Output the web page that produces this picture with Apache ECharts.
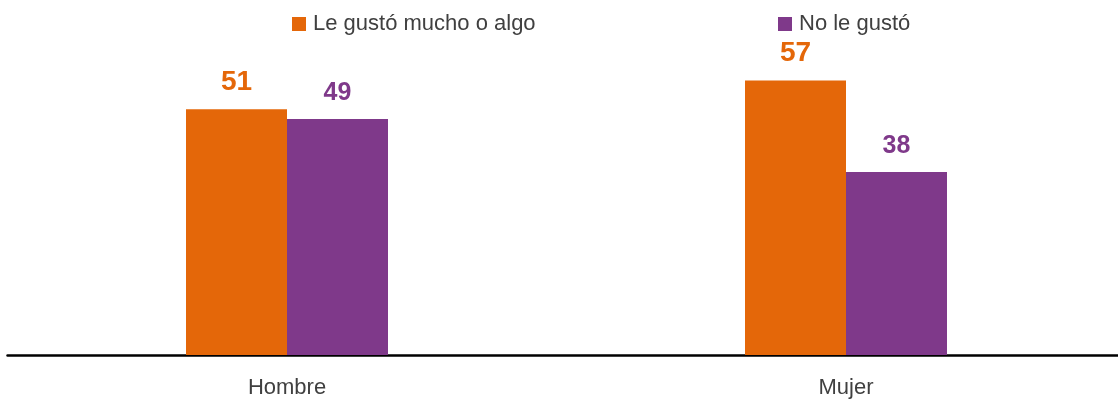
<!DOCTYPE html>
<html>
<head>
<meta charset="utf-8">
<script src="https://cdn.jsdelivr.net/npm/echarts@6/dist/echarts.min.js"></script>
<style>
html,body{margin:0;padding:0;background:#fff;}
#chart{width:1118px;height:402px;}
</style>
</head>
<body>
<div id="chart"></div>
<script>
const categories = ['Hombre', 'Mujer'];
const seriesNames = ['Le gustó mucho o algo', 'No le gustó'];
const liked = [51, 57];
const disliked = [49, 38];
const yMax = 60;

const FONT = "'Liberation Sans', Arial, sans-serif";
const ORANGE = '#E46709';
const PURPLE = '#7F398A';

const chart = echarts.init(document.getElementById('chart'), null, {renderer: 'canvas'});
chart.setOption({
  animation: false,
  backgroundColor: '#ffffff',
  legend: [
    {
      data: [seriesNames[0]], left: 287, top: 8,
      itemWidth: 14, itemHeight: 14, icon: 'rect',
      textStyle: {fontFamily: FONT, fontSize: 22, color: '#404040', padding: [0, 0, 0, 2]}
    },
    {
      data: [seriesNames[1]], left: 773, top: 8,
      itemWidth: 14, itemHeight: 14, icon: 'rect',
      textStyle: {fontFamily: FONT, fontSize: 22, color: '#404040', padding: [0, 0, 0, 2]}
    }
  ],
  grid: {left: 7.5, width: 1118, top: 66, bottom: 47, containLabel: false, outerBoundsMode: 'none'},
  xAxis: {
    type: 'category',
    data: categories,
    axisLine: {show: true, lineStyle: {color: '#000', width: 2.5}},
    axisTick: {show: false},
    axisLabel: {fontFamily: FONT, fontSize: 22, color: '#404040', margin: 22}
  },
  yAxis: {
    type: 'value', min: 0, max: yMax,
    show: false,
    splitLine: {show: false}
  },
  series: [
    {
      name: seriesNames[0], type: 'bar', data: liked,
      barWidth: 101, barGap: '0%',
      itemStyle: {color: ORANGE},
      label: {show: true, position: 'top', distance: 13,
        fontFamily: FONT, fontWeight: 'bold', fontSize: 28, color: ORANGE}
    },
    {
      name: seriesNames[1], type: 'bar', data: disliked,
      barWidth: 101, barGap: '0%',
      itemStyle: {color: PURPLE},
      label: {show: true, position: 'top', distance: 13,
        fontFamily: FONT, fontWeight: 'bold', fontSize: 25, color: PURPLE}
    }
  ]
});
</script>
</body>
</html>
